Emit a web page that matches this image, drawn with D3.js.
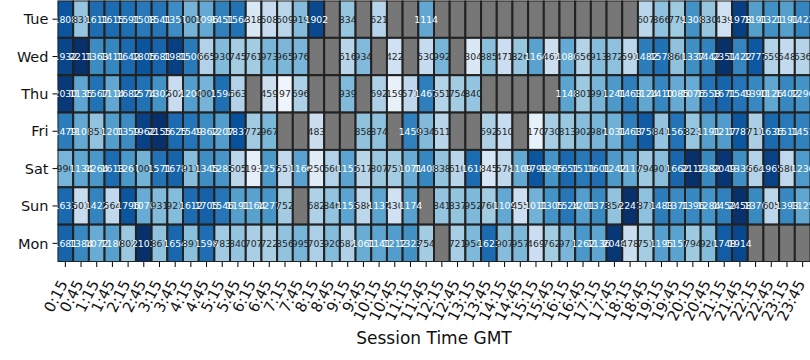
<!DOCTYPE html>
<html>
<head>
<meta charset="utf-8">
<script src="https://cdn.jsdelivr.net/npm/d3@7/dist/d3.min.js"></script>
<style>
body { margin: 0; background: #fff; }
svg text { font-family: "DejaVu Sans", sans-serif; }
</style>
</head>
<body>
<svg id="chart" width="810" height="360"></svg>
<script>
// rows of the heatmap, top to bottom
var days = ["Tue", "Wed", "Thu", "Fri", "Sat", "Sun", "Mon"];
var slots = ["0:15", "0:45", "1:15", "1:45", "2:15", "2:45", "3:15", "3:45",
             "4:15", "4:45", "5:15", "5:45", "6:15", "6:45", "7:15", "7:45",
             "8:15", "8:45", "9:15", "9:45", "10:15", "10:45", "11:15", "11:45",
             "12:15", "12:45", "13:15", "13:45", "14:15", "14:45", "15:15", "15:45",
             "16:15", "16:45", "17:15", "17:45", "18:15", "18:45", "19:15", "19:45",
             "20:15", "20:45", "21:15", "21:45", "22:15", "22:45", "23:15", "23:45"];

// session counts per half hour, null = no data (grey)
var tue = [1808, 831, 1611, 1615, 1591, 1508, 1541, 1351, 1000, 1096, 1451, 1564, 318, 508, 609, 919,
           1902, null, 834, null, 621, null, null, 1114, null, null, null, null, null, null, null, null,
           null, null, null, null, null, 607, 866, 779, 1308, 830, 439, 1978, 1191, 1321, 1191, 1422];
var wed = [1932, 2211, 1363, 1411, 1642, 1805, 1681, 1981, 1506, 665, 930, 745, 761, 973, 965, 976,
           null, null, 616, 934, null, 422, null, 530, 992, null, 304, 885, 471, 826, 1164, 467,
           1086, 656, 913, 872, 591, 1482, 1578, 860, 1337, 1442, 2351, 1422, 1777, 659, 548, 636];
var thu = [2030, 1135, 1567, 1114, 1682, 1574, 1302, 502, 1200, 1001, 1594, 663, null, 459, 97, 696,
           null, null, 939, null, 692, 159, 571, 1467, 651, 754, 840, null, null, null, null, null,
           1148, 801, 991, 1241, 1463, 1124, 1410, 1085, 1076, 1558, 1671, 1549, 1390, 1126, 1402, 1296];
var fri = [1479, 1108, 851, 1201, 1359, 1962, 2155, 1625, 1549, 1362, 1207, 1837, 772, 967, null, null,
           483, null, null, 858, 874, null, 1459, 934, 611, null, null, 692, 510, null, 170, 730,
           813, 902, 986, 1031, 1463, 1758, 841, 1563, 823, 1191, 1217, 1787, 711, 1636, 1511, 1451];
var sat = [990, 1134, 1264, 1613, 1261, 1005, 1571, 1678, 911, 1345, 1283, 605, 193, 1257, 551, 1166,
           250, 660, 1151, 617, 807, 751, 1071, 1408, 838, 610, 1618, 345, 578, 1109, 1799, 1295,
           1651, 1511, 1601, 1242, 1117, 794, 901, 1662, 2112, 1382, 2049, 1339, 664, 1965, 580, 1236];
var sun = [1633, 501, 1422, 564, 1796, 1070, 931, 921, 1612, 1705, 1546, 1191, 1164, 1277, 752, null,
           682, 846, 1153, 588, 1137, 430, 1174, null, 841, 837, 952, 760, 1109, 455, 1011, 1305,
           1524, 1201, 1373, 854, 2247, 871, 1483, 1371, 1396, 1284, 1452, 2458, 1376, 605, 1393, 1125];
var mon = [1681, 1384, 1072, 1180, 802, 2103, 861, 1654, 891, 1598, 783, 840, 707, 722, 856, 995,
           703, 920, 682, 1061, 1141, 1212, 1323, 754, null, 721, 954, 1623, 907, 957, 469, 762,
           971, 1262, 1136, 2048, 478, 751, 1195, 1157, 794, 920, 1748, 1914, null, null, null, null];

var rows = [tue, wed, thu, fri, sat, sun, mon];

// matplotlib "Blues"
var blues = ["#f7fbff", "#deebf7", "#c6dbef", "#9ecae1", "#6baed6",
             "#4292c6", "#2171b5", "#08519c", "#08306b"];

// seaborn picks annotation colour from the cell luminance
function text_color(c) {
    var rgb = d3.rgb(c);
    var lin = [rgb.r, rgb.g, rgb.b].map(function (v) {
        v = v / 255;
        return v <= 0.03928 ? v / 12.92 : Math.pow((v + 0.055) / 1.055, 2.4);
    });
    var lum = 0.2126 * lin[0] + 0.7152 * lin[1] + 0.0722 * lin[2];
    return lum > 0.408 ? "#262626" : "#ffffff";
}

function draw_heatmap() {
    var vmin = 0, vmax = 2100;
    var x0 = 57.5, x1 = 810.5, y0 = 0.5, y1 = 262;

    var svg = d3.select("#chart");

    var x = d3.scaleBand().domain(slots).range([x0, x1]);
    var y = d3.scaleBand().domain(days).range([y0, y1]);
    var color = d3.scaleLinear()
        .domain(blues.map(function (d, i) { return vmin + i * (vmax - vmin) / (blues.length - 1); }))
        .range(blues)
        .clamp(true);

    var cells = [];
    rows.forEach(function (r, i) {
        r.forEach(function (v, j) {
            cells.push({day: days[i], slot: slots[j], value: v});
        });
    });

    svg.append("clipPath").attr("id", "plotclip")
       .append("rect").attr("x", x0).attr("y", y0)
       .attr("width", x1 - x0).attr("height", y1 - y0);

    var plot = svg.append("g").attr("clip-path", "url(#plotclip)");

    plot.selectAll("rect.cell")
        .data(cells)
        .enter().append("rect")
        .attr("class", "cell")
        .attr("x", function (d) { return x(d.slot); })
        .attr("y", function (d) { return y(d.day); })
        .attr("width", x.bandwidth())
        .attr("height", y.bandwidth())
        .attr("fill", function (d) { return d.value === null ? "#777777" : color(d.value); })
        .attr("stroke", "#222222")
        .attr("stroke-width", 2);

    svg.selectAll("text.annot")
        .data(cells.filter(function (d) { return d.value !== null; }))
        .enter().append("text")
        .attr("class", "annot")
        .attr("x", function (d) { return x(d.slot) + x.bandwidth() / 2; })
        .attr("y", function (d) { return y(d.day) + y.bandwidth() / 2; })
        .attr("dy", "0.36em")
        .attr("text-anchor", "middle")
        .style("font-size", "9.3px")
        .attr("fill", function (d) { return text_color(color(d.value)); })
        .text(function (d) { return d3.format("d")(d.value); });

    // y axis
    var yt = svg.append("g");
    days.forEach(function (d) {
        var cy = y(d) + y.bandwidth() / 2;
        yt.append("line").attr("x1", x0 - 5).attr("x2", x0).attr("y1", cy).attr("y2", cy)
          .attr("stroke", "#000").attr("stroke-width", 1);
        yt.append("text").attr("x", x0 - 9).attr("y", cy).attr("dy", "0.36em")
          .attr("text-anchor", "end").style("font-size", "14.5px").attr("fill", "#111")
          .text(d);
    });

    // x axis, labels rotated, right end on the tick
    var xt = svg.append("g");
    slots.forEach(function (s) {
        var cx = x(s) + x.bandwidth() / 2;
        xt.append("line").attr("x1", cx).attr("x2", cx).attr("y1", y1).attr("y2", y1 + 5)
          .attr("stroke", "#000").attr("stroke-width", 1);
        xt.append("text")
          .attr("transform", "translate(" + (cx - 2) + "," + (y1 + 19) + ") rotate(-63)")
          .attr("dy", "0.36em")
          .attr("text-anchor", "end").style("font-size", "15px").attr("fill", "#111")
          .text(s);
    });

    svg.append("text")
       .attr("x", (x0 + x1) / 2).attr("y", 344)
       .attr("text-anchor", "middle").style("font-size", "17px").attr("fill", "#111")
       .text("Session Time GMT");
}

draw_heatmap();
</script>
</body>
</html>
